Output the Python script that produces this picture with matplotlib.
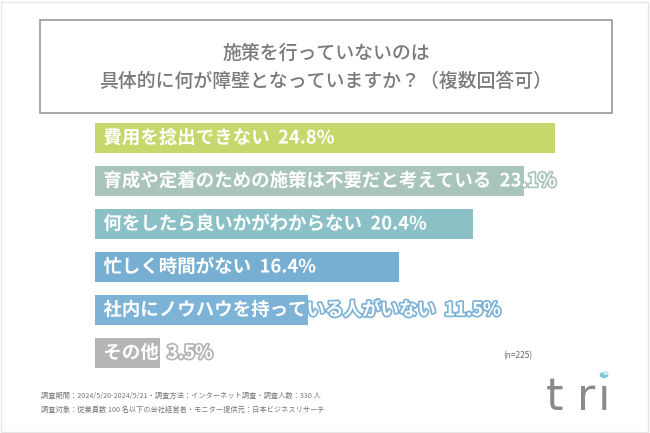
import matplotlib.pyplot as plt
import matplotlib.patheffects as pe
from matplotlib.patches import Rectangle

plt.rcParams["font.family"] = ["Noto Sans CJK JP", "DejaVu Sans"]

# data
labels = [
    "費用を捻出できない",
    "育成や定着のための施策は不要だと考えている",
    "何をしたら良いかがわからない",
    "忙しく時間がない",
    "社内にノウハウを持っている人がいない",
    "その他",
]
values = [24.8, 23.1, 20.4, 16.4, 11.5, 3.5]
colors = ["#c4d86c", "#a9c5b9", "#8bc1c6", "#76afd2", "#7db3d7", "#b5b5b5"]

title = "施策を行っていないのは\n具体的に何が障壁となっていますか？（複数回答可）"
note_n = "(n=225)"
footer = [
    "調査期間：2024/5/20-2024/5/21・調査方法：インターネット調査・調査人数：330 人",
    "調査対象：従業員数 100 名以下の会社経営者・モニター提供元：日本ビジネスリサーチ",
]

W, H = 650, 433
fig = plt.figure(figsize=(6.5, 4.33), dpi=100)
fig.patch.set_facecolor("white")

# outer frame and title box
fig.patches.append(Rectangle((1 / W, 1 / H), 647 / W, 430 / H, transform=fig.transFigure,
                             fill=False, edgecolor="#e6e6e6", linewidth=1))
fig.patches.append(Rectangle((40 / W, 1 - 113 / H), 572 / W, 93 / H, transform=fig.transFigure,
                             fill=False, edgecolor="#a0a0a0", linewidth=1.3))
fig.text(326 / W, 1 - 67 / H, title, ha="center", va="center", fontsize=13.6,
         color="#7a7a7a", fontweight="medium", linespacing=1.55)

# bars
ax = fig.add_axes([95 / W, (H - 374.5) / H, 556.5 / W, 258 / H])
ypos = list(range(len(values)))
ax.barh(ypos, values, height=0.72, color=colors)
ax.set_xlim(0, 30)
ax.set_ylim(len(values) - 0.5, -0.5)
ax.axis("off")

for y, lab, v, c in zip(ypos, labels, values, colors):
    t = ax.text(0.45, y, f"{lab}  {v}%", ha="left", va="center", fontsize=13.3,
                fontweight="bold", color="white")
    t.set_path_effects([pe.withStroke(linewidth=2.5, foreground=c)])

fig.text(503 / W, 1 - 356 / H, note_n, fontsize=6, color="#666666", va="center")

for i, line in enumerate(footer):
    fig.text(41 / W, 1 - (396 + i * 14) / H, line, fontsize=5.2, color="#777777", va="center")

# logo, letters spaced out
for ch, px in [("t", 546), ("r", 577), ("ı", 598)]:
    fig.text(px / W, 1 - 410 / H, ch, fontsize=32, color="#8a8a8a",
             family="DejaVu Sans", va="baseline", ha="left")
fig.patches.append(plt.Circle((604 / W, 1 - 375 / H), 3.6 / W, transform=fig.transFigure,
                              color="#7cc6d8"))
fig.patches.append(plt.Circle((606 / W, 1 - 373 / H), 2 / W, transform=fig.transFigure,
                              color="#c8ecef"))

fig.savefig("out.png", dpi=100)
